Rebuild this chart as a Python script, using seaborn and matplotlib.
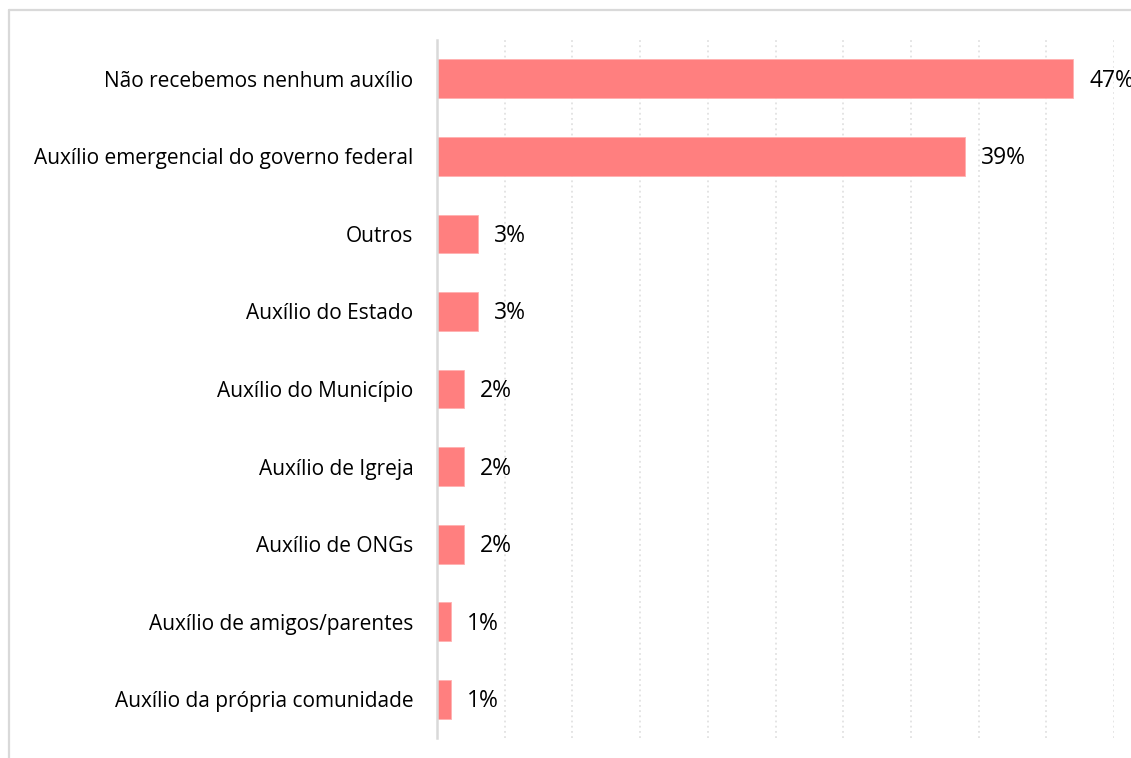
import pandas as pd
import seaborn as sns
import matplotlib.pyplot as plt
from matplotlib.lines import Line2D

# dados
categorias = [
    'Não recebemos nenhum auxílio',
    'Auxílio emergencial do governo federal',
    'Outros',
    'Auxílio do Estado',
    'Auxílio do Município',
    'Auxílio de Igreja',
    'Auxílio de ONGs',
    'Auxílio de amigos/parentes',
    'Auxílio da própria comunidade',
]
valores = [0.47, 0.39, 0.03, 0.03, 0.02, 0.02, 0.02, 0.01, 0.01]

df = pd.DataFrame({'categoria': categorias, 'valor': valores})

sns.set_style('white')
plt.rcParams['font.family'] = ['Open Sans', 'DejaVu Sans']

W, H = 1131, 758
fig = plt.figure(figsize=(W / 100, H / 100), dpi=100)
ax = fig.add_axes([437 / W, 20 / H, 677 / W, 698 / H])

sns.barplot(data=df, y='categoria', x='valor', orient='h', color='#FF7F7F',
            saturation=1, width=0.5, ax=ax, edgecolor='#FFB0B0', linewidth=0.6)

ax.set_xlim(0, 0.5)
ax.set_xticks([i * 0.05 for i in range(11)])
ax.xaxis.grid(True, linestyle=(0, (1.2, 2.2)), color='#DDDDDD', linewidth=1.1)
ax.yaxis.grid(False)
ax.set_axisbelow(True)
ax.tick_params(axis='x', bottom=False, labelbottom=False)
ax.tick_params(axis='y', left=False, labelsize=15, pad=13.5, colors='black')
ax.set_xlabel('')
ax.set_ylabel('')
for s in ['top', 'right', 'bottom']:
    ax.spines[s].set_visible(False)
ax.spines['left'].set_color('#D9D9D9')
ax.spines['left'].set_linewidth(1.8)

# rótulos de porcentagem (o 47% fica cortado na borda, como no original)
for i, v in enumerate(valores):
    ax.annotate(f'{v:.0%}', (v, i), xytext=(16, -2), textcoords='offset pixels',
                va='center', ha='left', fontsize=16.5, color='black',
                annotation_clip=False)

# moldura do gráfico
fig.add_artist(Line2D([8.5 / W, 8.5 / W], [0, (H - 10) / H], color='#D9D9D9', lw=1.6))
fig.add_artist(Line2D([8.5 / W, 1], [(H - 10) / H, (H - 10) / H], color='#D9D9D9', lw=1.6))

fig.savefig('out.png', dpi=100)
